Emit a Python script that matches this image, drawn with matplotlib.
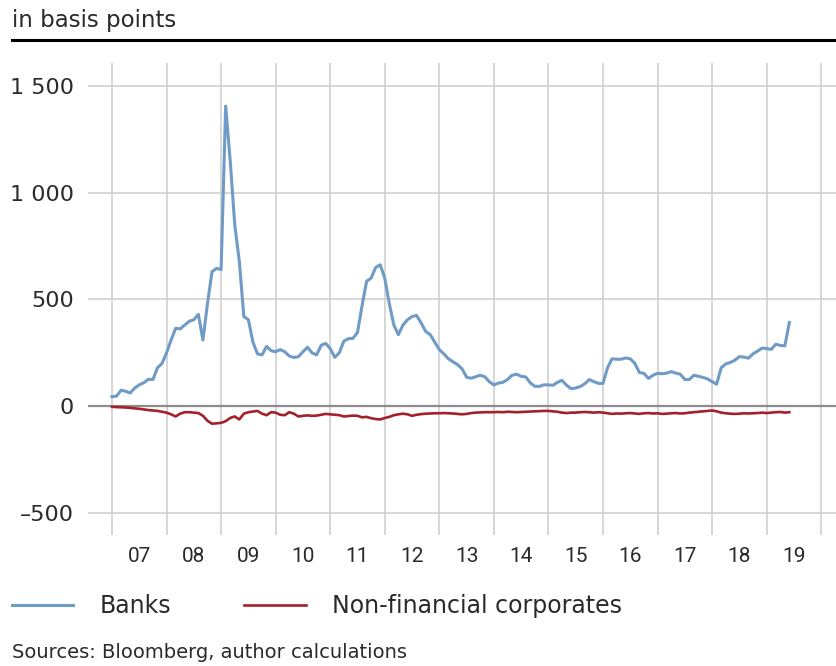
import numpy as np
import matplotlib.pyplot as plt
from matplotlib.lines import Line2D

plt.rcParams['font.family'] = ['DejaVu Sans']

# monthly values, Jan 2007 - Jun 2019, basis points
banks = [45, 47, 75, 70, 62, 85, 100, 110, 126, 125, 180, 200,
         250, 310, 365, 362, 380, 398, 405, 430, 310, 480, 630, 645,
         640, 1405, 1150, 850, 680, 420, 405, 300, 245, 240, 280, 260,
         255, 265, 255, 235, 228, 232, 255, 276, 250, 240, 285, 294,
         270, 229, 250, 305, 316, 318, 345, 470, 585, 600, 650, 662,
         600, 480, 380, 335, 380, 405, 420, 425, 390, 350, 335, 300,
         265, 245, 222, 208, 195, 175, 136, 131, 138, 145, 138, 115,
         100, 108, 112, 125, 145, 150, 140, 137, 110, 93, 93, 100,
         100, 98, 112, 121, 98, 82, 85, 92, 105, 125, 115, 107,
         107, 180, 222, 220, 220, 226, 222, 201, 158, 154, 130, 145,
         154, 152, 155, 162, 155, 150, 125, 125, 145, 140, 135, 128,
         115, 103, 180, 198, 205, 215, 232, 230, 225, 245, 258, 272,
         270, 266, 290, 285, 282, 392]
nfc = [-3, -4, -5, -6, -8, -10, -12, -15, -18, -20, -22, -26,
       -30, -38, -48, -35, -28, -28, -30, -32, -45, -68, -82, -80,
       -78, -70, -55, -48, -62, -35, -28, -25, -22, -35, -42, -28,
       -30, -40, -42, -28, -35, -48, -45, -43, -45, -44, -40, -36,
       -38, -40, -42, -48, -46, -44, -45, -52, -50, -56, -60, -62,
       -55, -50, -42, -38, -35, -38, -45, -40, -37, -35, -34, -33,
       -33, -32, -33, -34, -36, -38, -36, -32, -30, -29, -28, -28,
       -28, -27, -28, -26, -27, -28, -27, -26, -25, -24, -23, -22,
       -22, -24, -26, -30, -32, -30, -30, -28, -27, -28, -30, -28,
       -30, -33, -36, -34, -35, -33, -32, -34, -36, -33, -32, -34,
       -33, -36, -35, -33, -32, -34, -33, -30, -28, -26, -24, -22,
       -20, -24, -30, -33, -35, -36, -35, -33, -34, -33, -32, -30,
       -32, -30, -28, -27, -30, -28]
dates = 2007 + np.arange(len(banks)) / 12.0

years = np.arange(2007, 2020)
year_labels = ['07', '08', '09', '10', '11', '12', '13', '14', '15', '16', '17', '18', '19']
yticks = [-500, 0, 500, 1000, 1500]
ytick_labels = ['\u2013500', '0', '500', '1 000', '1 500']

W, H = 837, 666
TXT = '#2a2a2a'
fig = plt.figure(figsize=(W / 100, H / 100), dpi=100)
ax = fig.add_axes([88 / W, 1 - 535 / H, (W - 88) / W, (535 - 63) / H])

ax.set_xlim(2006.56, 2020.29)
ax.set_ylim(-603, 1607)

for yv in yticks:
    if yv == 0:
        ax.axhline(yv, color='#8c8c8c', lw=1.6, zorder=2)
    else:
        ax.axhline(yv, color='#cfcfcf', lw=1.2, zorder=1)
for xv in list(years) + [2020]:
    ax.axvline(xv, color='#cfcfcf', lw=1.2, zorder=1)

ax.plot(dates, banks, color='#6f9bc6', lw=2.2, zorder=3, label='Banks')
ax.plot(dates, nfc, color='#a3212b', lw=1.9, zorder=3, label='Non-financial corporates')

for s in ax.spines.values():
    s.set_visible(False)
ax.set_yticks(yticks)
ax.set_yticklabels(ytick_labels)
ax.set_xticks(years + 0.5)
ax.set_xticklabels(year_labels, family=['Roboto', 'DejaVu Sans'], fontsize=15)
ax.tick_params(axis='both', length=0, colors=TXT)
ax.tick_params(axis='y', pad=10, labelsize=16)
ax.tick_params(axis='x', pad=9)

fig.text(12 / W, 1 - 20 / H, 'in basis points', fontsize=16.5, va='center', color=TXT)
fig.add_artist(Line2D([12 / W, 1], [1 - 40 / H, 1 - 40 / H], color='black', lw=2.2))

h1 = Line2D([], [], color='#6f9bc6', lw=2.2)
h2 = Line2D([], [], color='#a3212b', lw=1.9)
fig.legend([h1, h2], ['Banks', 'Non-financial corporates'], loc='center left',
           bbox_to_anchor=(12 / W, 1 - 606 / H), ncol=2, frameon=False,
           prop={'size': 17}, labelcolor=TXT,
           handlelength=2.6, handletextpad=1.1, columnspacing=3.1, borderaxespad=0,
           borderpad=0)

fig.text(12 / W, 1 - 653 / H, 'Sources: Bloomberg, author calculations', fontsize=14,
         va='center', color=TXT)

fig.savefig('out.png', dpi=100)
